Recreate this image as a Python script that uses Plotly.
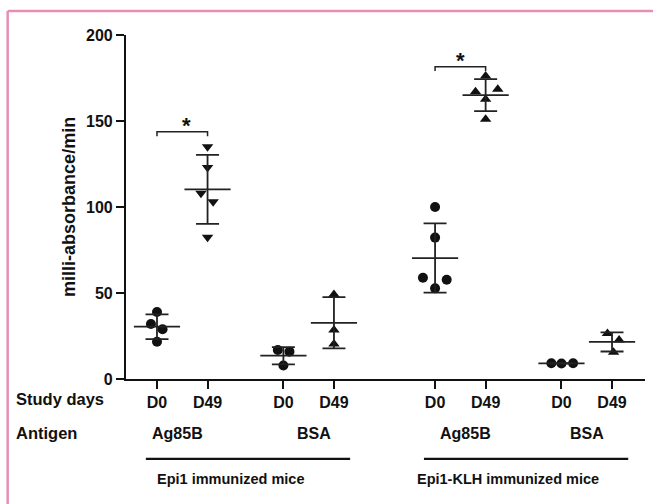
import plotly.graph_objects as go
import numpy as np

# ---------------- data ----------------
day_labels = ["D0", "D49", "D0", "D49", "D0", "D49", "D0", "D49"]
antigen_labels = ["Ag85B", "BSA", "Ag85B", "BSA"]
mouse_groups = ["Epi1 immunized mice", "Epi1-KLH immunized mice"]

epi1_ag85b_d0 = [39.0, 32.0, 28.9, 21.7]
epi1_ag85b_d49 = [135.0, 122.9, 108.0, 103.0, 82.4]
epi1_bsa_d0 = [16.9, 15.9, 7.8]
epi1_bsa_d49 = [49.2, 28.5, 20.3]
klh_ag85b_d0 = [100.0, 82.2, 58.9, 57.7, 52.7]
klh_ag85b_d49 = [176.2, 167.0, 168.4, 162.6, 151.0]
klh_bsa_d0 = [9.2, 9.0, 9.2]
klh_bsa_d49 = [26.5, 22.7, 15.5]

groups = [epi1_ag85b_d0, epi1_ag85b_d49, epi1_bsa_d0, epi1_bsa_d49,
          klh_ag85b_d0, klh_ag85b_d49, klh_bsa_d0, klh_bsa_d49]

# significance brackets: (group i, group j, level)
sig_pairs = [(0, 1, 143.8), (4, 5, 181.6)]

# ---------------- layout / style ----------------
cat_pos = [0, 1, 2.5, 3.5, 5.5, 6.5, 8, 9]
jitter = [
    [0, -0.12, 0.11, 0],
    [0, 0, -0.13, 0.11, 0],
    [-0.11, 0.12, 0],
    [0, 0, 0],
    [0, 0, -0.24, 0.23, 0],
    [0, -0.2, 0.24, 0, 0],
    [-0.2, 0, 0.23],
    [-0.09, 0.14, 0.03],
]
symbols = ["circle", "triangle-down", "circle", "triangle-up",
           "circle", "triangle-up", "circle", "triangle-up"]
antigen_shift_px = [-5, 5, 5, 0]
FONT = "Liberation Sans, Arial, sans-serif"
INK = "#111111"
BAR = "#222222"

fig = go.Figure()
for vals, pos, jit, sym in zip(groups, cat_pos, jitter, symbols):
    v = np.array(vals)
    fig.add_trace(go.Scatter(
        x=[pos + j for j in jit], y=v, mode="markers",
        marker=dict(symbol=sym, size=10, color=INK),
        showlegend=False, cliponaxis=False, hoverinfo="y"))
    fig.add_trace(go.Scatter(
        x=[pos], y=[v.mean()], mode="markers",
        marker=dict(symbol="line-ew", size=33, color=BAR,
                    line=dict(width=1.8, color=BAR)),
        error_y=dict(type="data", array=[v.std(ddof=1)], visible=True,
                     thickness=1.8, width=11.5, color=BAR),
        showlegend=False, cliponaxis=False, hoverinfo="y"))

shapes = []
annotations = []
for k, (i, j, lvl) in enumerate(sig_pairs):
    x0, x1 = cat_pos[i], cat_pos[j]
    shapes.append(dict(type="path", xref="x", yref="y",
                       path=f"M {x0},{lvl-2.6} L {x0},{lvl} L {x1},{lvl} L {x1},{lvl-2.6}",
                       line=dict(color=BAR, width=1.5)))
    annotations.append(dict(x=(x0 + x1) / 2, y=lvl, xref="x", yref="y",
                            text="<b>*</b>", showarrow=False, xanchor="center", yanchor="bottom",
                            xshift=4 if k == 0 else 0, yshift=-8,
                            font=dict(family=FONT, size=22, color=INK)))

# antigen labels
for k, lab in enumerate(antigen_labels):
    xm = (cat_pos[2 * k] + cat_pos[2 * k + 1]) / 2
    annotations.append(dict(x=xm, y=-0.157, xref="x", yref="paper", text=f"<b>{lab}</b>",
                            showarrow=False, xanchor="center", yanchor="middle",
                            xshift=antigen_shift_px[k],
                            font=dict(family=FONT, size=16, color=INK)))
# mouse group labels + lines
for k, lab in enumerate(mouse_groups):
    xa, xb = cat_pos[4 * k], cat_pos[4 * k + 3]
    shapes.append(dict(type="line", xref="x", yref="paper", x0=xa - 0.22, x1=xb + 0.32,
                       y0=-0.232, y1=-0.232, line=dict(color=INK, width=2.2)))
    annotations.append(dict(x=xa + 1.45, y=-0.292, xref="x", yref="paper",
                            text=f"<b>{lab}</b>", showarrow=False, xanchor="center",
                            yanchor="middle", font=dict(family=FONT, size=14.5, color=INK)))
# row headers
annotations.append(dict(x=-0.216, y=-0.058, xref="paper", yref="paper", text="<b>Study days</b>",
                        xanchor="left", yanchor="middle", showarrow=False,
                        font=dict(family=FONT, size=16.5, color=INK)))
annotations.append(dict(x=-0.216, y=-0.157, xref="paper", yref="paper", text="<b>Antigen</b>",
                        xanchor="left", yanchor="middle", showarrow=False,
                        font=dict(family=FONT, size=16.5, color=INK)))
# y title
annotations.append(dict(x=-0.11, y=0.5, xref="paper", yref="paper",
                        text="<b>milli-absorbance/min</b>", textangle=-90, showarrow=False,
                        xanchor="center", yanchor="middle",
                        font=dict(family=FONT, size=18, color=INK)))

# pink frame
PINK = "#e68fb2"
shapes.append(dict(type="line", xref="paper", yref="paper", x0=-0.228, x1=1.03,
                   y0=1.0695, y1=1.0695, line=dict(color=PINK, width=2.5)))
shapes.append(dict(type="line", xref="paper", yref="paper", x0=-0.228, x1=-0.228,
                   y0=1.0695, y1=-0.38, line=dict(color=PINK, width=2.5)))

fig.update_layout(
    width=653, height=504,
    margin=dict(l=126, r=8, t=35, b=125),
    paper_bgcolor="white", plot_bgcolor="white",
    font=dict(family=FONT, size=16, color=INK),
    shapes=shapes, annotations=annotations,
    xaxis=dict(range=[-0.613, 9.652], tickmode="array", tickvals=cat_pos,
               ticktext=[f"<b>{d}</b>" for d in day_labels],
               showline=True, linecolor=INK, linewidth=2.2, ticks="outside",
               ticklen=8, tickwidth=2, tickcolor=INK, showgrid=False, zeroline=False,
               tickfont=dict(family=FONT, size=16, color=INK)),
    yaxis=dict(range=[0, 200], tickvals=[0, 50, 100, 150, 200],
               ticktext=["<b>0</b>", "<b>50</b>", "<b>100</b>", "<b>150</b>", "<b>200</b>"],
               showline=True, linecolor=INK, linewidth=2.2, ticks="outside",
               ticklen=8, tickwidth=2, tickcolor=INK, showgrid=False, zeroline=False,
               tickfont=dict(family=FONT, size=16, color=INK)),
)

fig.write_html("out.html", config={"displayModeBar": False},
               post_script="document.body.style.margin='0px';")
